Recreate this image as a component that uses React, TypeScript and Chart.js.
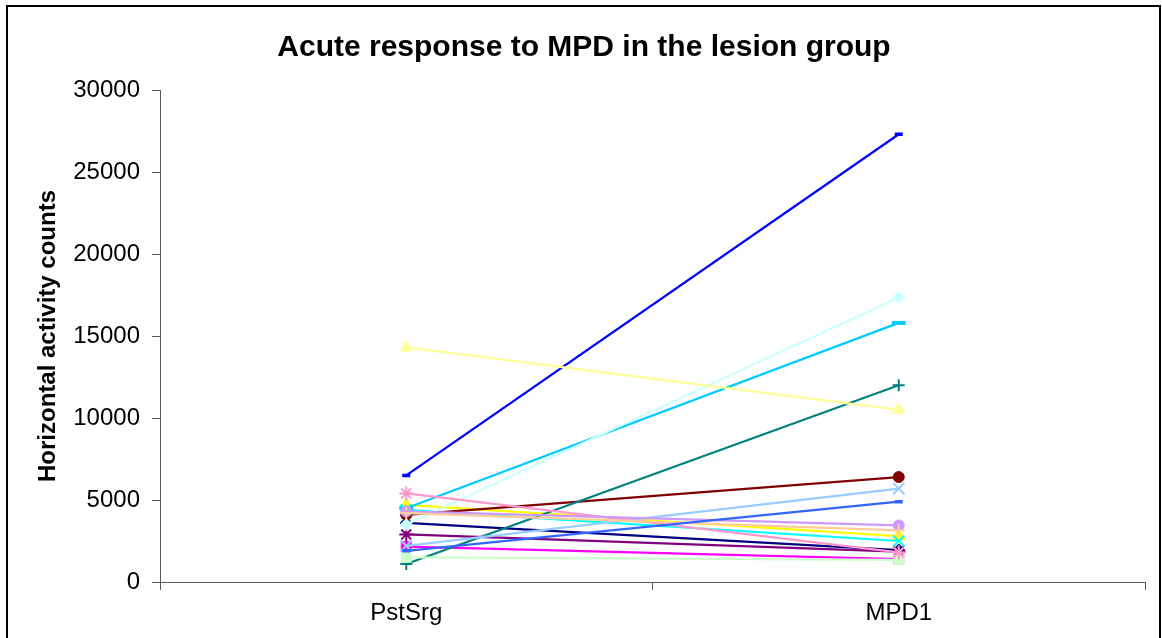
import React, { useEffect, useRef } from "react";
import { Chart, registerables } from "chart.js";

Chart.register(...registerables);

const categories = ["PstSrg", "MPD1"];
const yTickValues = [0, 5000, 10000, 15000, 20000, 25000, 30000];

// Values for each animal (series) at PstSrg and MPD1
const pstSrgValues = [3600, 2150, 4700, 4400, 2900, 4100, 1100, 6500, 4500, 3500, 1500, 14300, 2200, 5400, 4300, 4200, 1900];
const mpd1Values = [1950, 1400, 2800, 2500, 1850, 6400, 12000, 27300, 15800, 17350, 1350, 10500, 5700, 1800, 3450, 3150, 4900];

const seriesColors = [
  "#000080", "#FF00FF", "#FFFF00", "#00FFFF", "#800080", "#800000", "#008080", "#0000FF",
  "#00CCFF", "#CCFFFF", "#CCFFCC", "#FFFF99", "#99CCFF", "#FF99CC", "#CC99FF", "#FFCC99", "#3366FF",
];
const seriesMarkers = [
  "diamond", "square", "triangle", "x", "star", "circle", "plus", "dash",
  "longdash", "diamond", "square", "triangle", "x", "star", "circle", "plus", "dash",
];

const FONT = "'Liberation Sans', Arial, sans-serif";

function markerStyle(m: string) {
  switch (m) {
    case "diamond": return { pointStyle: "rectRot", radius: 6, bw: 1 };
    case "square": return { pointStyle: "rect", radius: 7, bw: 1 };
    case "triangle": return { pointStyle: "triangle", radius: 7, bw: 1 };
    case "x": return { pointStyle: "crossRot", radius: 8, bw: 2 };
    case "star": return { pointStyle: "star", radius: 7, bw: 2 };
    case "circle": return { pointStyle: "circle", radius: 5.5, bw: 1 };
    case "plus": return { pointStyle: "cross", radius: 6, bw: 2 };
    case "dash": return { pointStyle: "line", radius: 4, bw: 3.5 };
    default: return { pointStyle: "line", radius: 7, bw: 4 };
  }
}

export default function App() {
  const canvasRef = useRef<HTMLCanvasElement | null>(null);

  useEffect(() => {
    if (!canvasRef.current) return;
    const n = pstSrgValues.length;
    const datasets = pstSrgValues.map((v, i) => {
      const ms = markerStyle(seriesMarkers[i]);
      return {
        label: "Series " + (i + 1),
        data: [v, mpd1Values[i]],
        borderColor: seriesColors[i],
        backgroundColor: seriesColors[i],
        borderWidth: 2.25,
        pointStyle: ms.pointStyle,
        pointRadius: ms.radius,
        pointHoverRadius: ms.radius,
        pointBorderWidth: ms.bw,
        pointBackgroundColor: seriesColors[i],
        pointBorderColor: seriesColors[i],
        fill: false,
        tension: 0,
        order: n - 1 - i,
      };
    });

    const chart = new Chart(canvasRef.current, {
      type: "line",
      data: { labels: categories, datasets: datasets as any },
      options: {
        animation: false,
        responsive: false,
        devicePixelRatio: 1,
        layout: { padding: { left: 23, right: 17, top: 0, bottom: 0 } },
        plugins: {
          legend: { display: false },
          tooltip: { enabled: false },
          title: {
            display: true,
            text: "Acute response to MPD in the lesion group",
            color: "#000",
            font: { family: FONT, size: 30, weight: "bold" },
            padding: { top: 30, bottom: 24 },
          },
        },
        scales: {
          x: {
            type: "category",
            offset: true,
            grid: {
              display: true,
              offset: true,
              drawOnChartArea: false,
              drawTicks: true,
              tickLength: 8,
              tickColor: "#595959",
              tickWidth: 1,
            },
            border: { display: true, color: "#595959", width: 1 },
            ticks: {
              color: "#000",
              font: { family: FONT, size: 24 },
              padding: 9,
              maxRotation: 0,
            },
            afterFit: (s: any) => { s.height = 56; },
          },
          y: {
            min: 0,
            max: 30000,
            afterBuildTicks: (s: any) => { s.ticks = yTickValues.map((v) => ({ value: v })); },
            grid: {
              display: true,
              drawOnChartArea: false,
              drawTicks: true,
              tickLength: 8,
              tickColor: "#595959",
              tickWidth: 1,
            },
            border: { display: true, color: "#595959", width: 1 },
            ticks: {
              color: "#000",
              font: { family: FONT, size: 24 },
              padding: 12,
              callback: (v: any) => String(v),
            },
            title: {
              display: true,
              text: "Horizontal activity counts",
              color: "#000",
              font: { family: FONT, size: 24, weight: "bold" },
              padding: { top: 11, bottom: 0 },
            },
            afterFit: (s: any) => { s.width = 137; },
          },
        },
      },
    });
    return () => chart.destroy();
  }, []);

  return (
    <div style={{ position: "absolute", left: 0, top: 0, width: 1162, height: 638, overflow: "hidden", background: "#fff" }}>
      <div style={{ position: "absolute", left: 6, top: 5, width: 1151, height: 700, border: "2px solid #000" }} />
      <canvas ref={canvasRef} width={1162} height={638} style={{ position: "absolute", left: 0, top: 0 }} />
    </div>
  );
}
